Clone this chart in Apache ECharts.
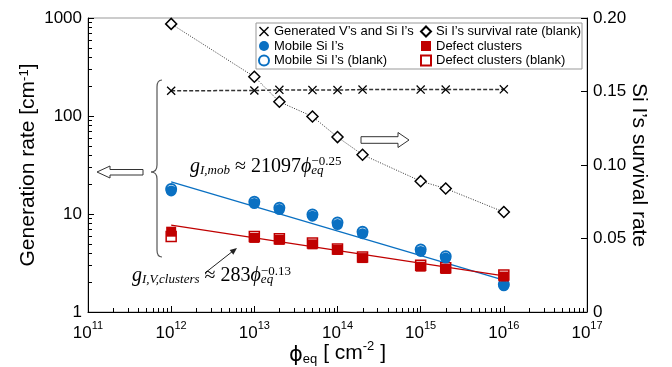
<!DOCTYPE html>
<html>
<head>
<meta charset="utf-8">
<script src="https://cdn.jsdelivr.net/npm/echarts@6/dist/echarts.min.js"></script>
<style>html,body{margin:0;padding:0;background:#fff}#c{width:672px;height:367px}</style>
</head>
<body>
<div id="c"></div>
<script>
// ---- data ----
var fluence = [1e12, 1e13, 2e13, 5e13, 1e14, 2e14, 1e15, 2e15, 1e16];
var generated = [181, 182, 185, 184, 184, 186, 186, 186, 187];
var survival = [0.196, 0.160, 0.143, 0.133, 0.119, 0.107, 0.089, 0.084, 0.068];
var mobile = [17.2, 12.8, 11.1, 9.5, 7.8, 6.3, 4.15, 3.55, 1.85];
var mobileBlank = [18.0, 13.3, 11.6, 9.9, 8.2, 6.6, 4.35, 3.7, 1.92];
var clusters = [6.6, 5.7, 5.45, 4.9, 4.3, 3.55, 2.9, 2.75, 2.3];
var clustersBlank = [5.9, 5.9, 5.6, 5.05, 4.4, 3.65, 3.0, 2.83, 2.38];
var fitX = [1e12, 1e16];
var fitMobile = [21.3, 2.12];
var fitClusters = [7.7, 2.34];

function pairs(xs, ys) { return xs.map(function (x, i) { return [x, ys[i]]; }); }

var FONT = 'Liberation Sans, Arial, sans-serif';
var SERIF = 'Liberation Serif, Times New Roman, serif';
var BLUE = '#0A70C2';
var RED = '#C00000';
var CROSS = 'path://M1,0 L5,4 L9,0 L10,1 L6,5 L10,9 L9,10 L5,6 L1,10 L0,9 L4,5 L0,1 Z';

var GL = 88, GR = 85, GT = 18, GB = 55, W = 672, H = 367;

// text measuring for formula superscript placement
var mctx = document.createElement('canvas').getContext('2d');
function tw(font, s) { mctx.font = font; return mctx.measureText(s).width; }
var FS = 20, FSS = 13;
var mobLeft = 190, cluLeft = 132;
var mobSupX = mobLeft + tw('italic ' + FS + 'px ' + SERIF, 'g') + tw('italic ' + FSS + 'px ' + SERIF, 'I,mob') +
  tw(FS + 'px ' + SERIF, ' ≈ 21097') + tw('italic ' + FS + 'px ' + SERIF, 'ϕ');
var cluSupX = cluLeft + tw('italic ' + FS + 'px ' + SERIF, 'g') + tw('italic ' + FSS + 'px ' + SERIF, 'I,V,clusters') +
  tw(FS + 'px ' + SERIF, ' ≈ 283') + tw('italic ' + FS + 'px ' + SERIF, 'ϕ');

var chart = echarts.init(document.getElementById('c'), null, {renderer: 'canvas'});

var braceStyle = {fill: null, stroke: '#555', lineWidth: 1.2};
var formulaRich = {
  i: {fontFamily: SERIF, fontStyle: 'italic', fontSize: FS, verticalAlign: 'bottom', lineHeight: 22},
  n: {fontFamily: SERIF, fontSize: FS, verticalAlign: 'bottom', lineHeight: 22},
  s: {fontFamily: SERIF, fontStyle: 'italic', fontSize: FSS, verticalAlign: 'bottom', lineHeight: 16}
};

var graphics = [
  {type: 'rect', shape: {x: 256, y: 23, width: 326, height: 46}, style: {fill: '#fff', stroke: '#999', lineWidth: 1}, z: 8},
  // left hollow arrow
  {type: 'polygon', shape: {points: [[97, 172], [110, 166], [110, 169.5], [143, 169.5], [143, 175], [110, 175], [110, 178]]},
   style: {fill: '#fff', stroke: '#333', lineWidth: 1}, z: 8},
  // right hollow arrow
  {type: 'polygon', shape: {points: [[409, 140], [398, 132.5], [398, 136.7], [361, 136.7], [361, 143.3], [398, 143.3], [398, 147.5]]},
   style: {fill: '#fff', stroke: '#333', lineWidth: 1}, z: 8},
  // curly brace
  {type: 'bezierCurve', shape: {x1: 162, y1: 80, cpx1: 157, cpy1: 80, x2: 157, y2: 87}, style: braceStyle, z: 8},
  {type: 'line', shape: {x1: 157, y1: 87, x2: 157, y2: 165}, style: braceStyle, z: 8},
  {type: 'bezierCurve', shape: {x1: 157, y1: 165, cpx1: 157, cpy1: 172, x2: 151, y2: 172}, style: braceStyle, z: 8},
  {type: 'bezierCurve', shape: {x1: 151, y1: 172, cpx1: 157, cpy1: 172, x2: 157, y2: 179}, style: braceStyle, z: 8},
  {type: 'line', shape: {x1: 157, y1: 179, x2: 157, y2: 250}, style: braceStyle, z: 8},
  {type: 'bezierCurve', shape: {x1: 157, y1: 250, cpx1: 157, cpy1: 257, x2: 162, y2: 257}, style: braceStyle, z: 8},
  // thin arrow
  {type: 'line', shape: {x1: 205, y1: 273, x2: 233, y2: 251}, style: {stroke: '#222', lineWidth: 1}, z: 8},
  {type: 'polygon', shape: {points: [[237, 248], [233.3, 254.7], [229.7, 249.9]]}, style: {fill: '#222'}, z: 8},
  // formulas
  {type: 'text', left: mobLeft, top: 157, z: 9,
   style: {text: '{i|g}{s|I,mob}{n| ≈ 21097}{i|ϕ}{s|eq}', fill: '#000', rich: formulaRich}},
  {type: 'text', left: mobSupX, top: 155, z: 9,
   style: {text: '−0.25', fill: '#000', font: FSS + 'px ' + SERIF}},
  {type: 'text', left: cluLeft, top: 266, z: 9,
   style: {text: '{i|g}{s|I,V,clusters}{n| ≈ 283}{i|ϕ}{s|eq}', fill: '#000', rich: formulaRich}},
  {type: 'text', left: cluSupX, top: 265, z: 9,
   style: {text: '−0.13', fill: '#000', font: FSS + 'px ' + SERIF}}
];

// minor log ticks (2..9 x 10^n) along the bottom and left axes (decoration)
var gx0 = GL, gx1 = W - GR, gy0 = GT, gy1 = H - GB;
for (var n = 11; n < 17; n++) {
  for (var m = 2; m <= 9; m++) {
    var x = Math.round(gx0 + (Math.log10(m) + n - 11) / 6 * (gx1 - gx0)) + 0.5;
    graphics.push({type: 'line', shape: {x1: x, y1: gy1, x2: x, y2: gy1 - 4}, style: {stroke: '#000', lineWidth: 1}, z: 7});
  }
}
for (var k = 0; k < 3; k++) {
  for (var m2 = 2; m2 <= 9; m2++) {
    var y = Math.round(gy1 - (Math.log10(m2) + k) / 3 * (gy1 - gy0)) + 0.5;
    graphics.push({type: 'line', shape: {x1: gx0, y1: y, x2: gx0 + 4, y2: y}, style: {stroke: '#000', lineWidth: 1}, z: 7});
  }
}

var option = {
  animation: false,
  backgroundColor: '#fff',
  grid: {left: GL, right: GR, top: GT, bottom: GB, show: true, borderColor: '#999', borderWidth: 1,
         containLabel: false, outerBoundsMode: 'none'},
  xAxis: {
    type: 'log', logBase: 10, min: 1e11, max: 1e17,
    name: '{phi|ϕ}{sub|eq} [ cm{sup|-2} ]', nameLocation: 'middle', nameGap: 28, nameMoveOverlap: false,
    nameTextStyle: {fontFamily: FONT, fontSize: 21, color: '#000',
      rich: {phi: {fontFamily: 'DejaVu Sans', fontSize: 21, verticalAlign: 'bottom', lineHeight: 26},
             sub: {fontSize: 13, verticalAlign: 'bottom', lineHeight: 18},
             sup: {fontSize: 13, verticalAlign: 'top', lineHeight: 14}}},
    axisLine: {lineStyle: {color: '#000', width: 1}},
    axisTick: {inside: true, length: 6, lineStyle: {color: '#000'}},
    splitLine: {show: false},
    axisLabel: {margin: 8, color: '#000', fontFamily: FONT,
      formatter: function (v) { return '{b|10}{sup|' + Math.round(Math.log10(v)) + '}'; },
      rich: {b: {fontSize: 17, fontFamily: FONT, verticalAlign: 'bottom', lineHeight: 22},
             sup: {fontSize: 11, fontFamily: FONT, verticalAlign: 'top', lineHeight: 12}}}
  },
  yAxis: [{
    type: 'log', logBase: 10, min: 1, max: 1000,
    name: 'Generation rate [cm{sup|-1}]', nameLocation: 'middle', nameGap: 49, nameRotate: 90, nameMoveOverlap: false,
    nameTextStyle: {fontFamily: FONT, fontSize: 21, color: '#000',
      rich: {sup: {fontSize: 13, verticalAlign: 'top', lineHeight: 14}}},
    axisLine: {show: true, lineStyle: {color: '#000'}},
    axisTick: {inside: true, length: 6, lineStyle: {color: '#000'}},
    splitLine: {show: false},
    axisLabel: {margin: 6, color: '#000', fontFamily: FONT, fontSize: 17,
      formatter: function (v) { return String(Math.round(v)); }}
  }, {
    type: 'value', min: 0, max: 0.2, interval: 0.05, position: 'right',
    name: 'Si I’s survival rate', nameLocation: 'middle', nameGap: 41, nameRotate: -90, nameMoveOverlap: false,
    nameTextStyle: {fontFamily: FONT, fontSize: 21, color: '#000'},
    axisLine: {show: true, lineStyle: {color: '#000'}},
    axisTick: {inside: true, length: 6, lineStyle: {color: '#000'}},
    splitLine: {show: false},
    axisLabel: {margin: 6, color: '#000', fontFamily: FONT, fontSize: 17,
      formatter: function (v) { return v === 0 ? '0' : v.toFixed(2); }}
  }],
  legend: [{
    left: 258, top: 25, orient: 'vertical', itemWidth: 10, itemHeight: 10, itemGap: 1.5,
    selectedMode: false, z: 10, padding: 0,
    textStyle: {fontFamily: FONT, fontSize: 13, color: '#000'},
    data: [
      {name: 'Generated V’s and Si I’s', icon: CROSS},
      {name: 'Mobile Si I’s', icon: 'circle'},
      {name: 'Mobile Si I’s (blank)', icon: 'circle'}
    ]
  }, {
    left: 420, top: 25, orient: 'vertical', itemWidth: 10, itemHeight: 10, itemGap: 1.5,
    selectedMode: false, z: 10, padding: 0,
    textStyle: {fontFamily: FONT, fontSize: 13, color: '#000'},
    data: [
      {name: 'Si I’s survival rate (blank)', icon: 'diamond'},
      {name: 'Defect clusters', icon: 'rect'},
      {name: 'Defect clusters (blank)', icon: 'rect'}
    ]
  }],
  series: [
    {name: 'fitMobile', type: 'line', data: pairs(fitX, fitMobile), showSymbol: false, symbol: 'none',
     lineStyle: {color: BLUE, width: 1.3}, z: 2},
    {name: 'fitClusters', type: 'line', data: pairs(fitX, fitClusters), showSymbol: false, symbol: 'none',
     lineStyle: {color: RED, width: 1.3}, z: 2},
    {name: 'Generated V’s and Si I’s', type: 'line', data: pairs(fluence, generated),
     symbol: CROSS, symbolSize: 9, itemStyle: {color: '#000'},
     lineStyle: {color: '#333', width: 1.5, type: [4, 2]}, z: 3},
    {name: 'Si I’s survival rate (blank)', type: 'line', yAxisIndex: 1, data: pairs(fluence, survival),
     symbol: 'diamond', symbolSize: 11, itemStyle: {color: '#fff', borderColor: '#000', borderWidth: 1.5},
     lineStyle: {color: '#333', width: 1, type: [1, 1.5]}, z: 3},
    {name: 'Mobile Si I’s (blank)', type: 'scatter', data: pairs(fluence, mobileBlank),
     symbol: 'circle', symbolSize: 10, itemStyle: {color: '#fff', borderColor: BLUE, borderWidth: 2, opacity: 1}, z: 4},
    {name: 'Defect clusters (blank)', type: 'scatter', data: pairs(fluence, clustersBlank),
     symbol: 'rect', symbolSize: 10, itemStyle: {color: '#fff', borderColor: RED, borderWidth: 1.5, opacity: 1}, z: 4},
    {name: 'Mobile Si I’s', type: 'scatter', data: pairs(fluence, mobile),
     symbol: 'circle', symbolSize: 11, itemStyle: {color: BLUE, opacity: 1}, z: 5},
    {name: 'Defect clusters', type: 'scatter', data: pairs(fluence, clusters),
     symbol: 'rect', symbolSize: 10, itemStyle: {color: RED, opacity: 1}, z: 5}
  ],
  graphic: graphics
};
chart.setOption(option);
</script>
</body>
</html>
